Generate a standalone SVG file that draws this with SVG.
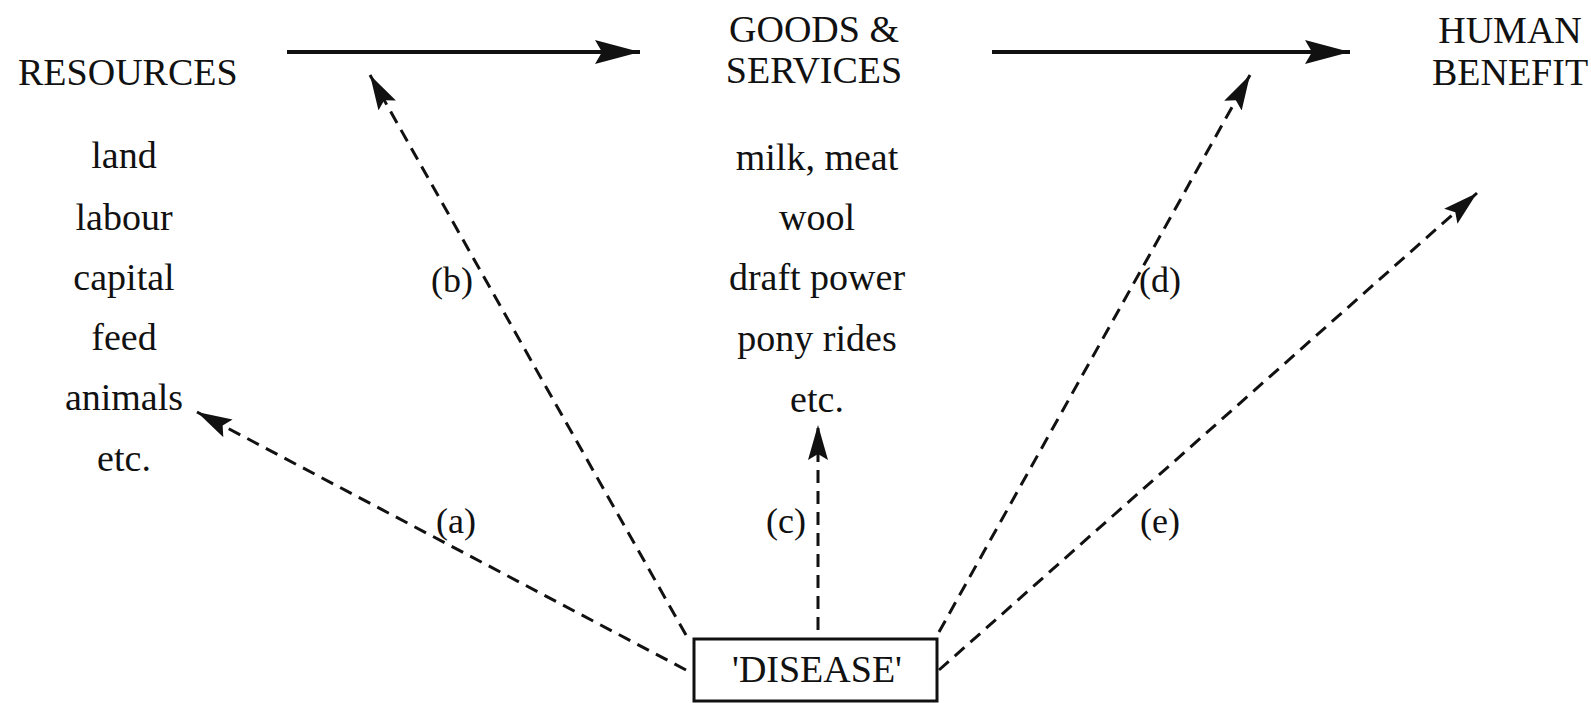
<svg xmlns="http://www.w3.org/2000/svg" width="1591" height="703" viewBox="0 0 1591 703">
<defs>
<style>
text{font-family:"Liberation Serif","Times New Roman",serif;fill:#111;}
.hd{font-size:38px;}
.it{font-size:38px;text-anchor:middle;}
.lb{font-size:36px;text-anchor:middle;}
.solid{stroke:#111;stroke-width:4;fill:none;}
.dash{stroke:#111;stroke-width:3;fill:none;stroke-dasharray:13 8;}
.box{stroke:#111;stroke-width:3;fill:#fff;}
</style>
<marker id="ah" markerUnits="userSpaceOnUse" markerWidth="48" markerHeight="28" refX="45" refY="12" orient="auto">
<path d="M0,0 L45,12 L0,24 L7,12 z" fill="#111" stroke="none"/>
</marker>
<marker id="ahd" markerUnits="userSpaceOnUse" markerWidth="38" markerHeight="24" refX="35" refY="10" orient="auto">
<path d="M0,0 L35,10 L0,20 L6,10 z" fill="#111" stroke="none"/>
</marker>
</defs>
<rect width="1591" height="703" fill="#fff"/>
<g id="connectors">
<line class="solid" x1="287" y1="52" x2="640" y2="52" marker-end="url(#ah)"/>
<line class="solid" x1="992" y1="52" x2="1350" y2="52" marker-end="url(#ah)"/>
<line class="dash" x1="686" y1="670" x2="197" y2="412" marker-end="url(#ahd)"/>
<line class="dash" x1="686" y1="635" x2="370" y2="75" marker-end="url(#ahd)"/>
<line class="dash" x1="818" y1="630" x2="818" y2="425" marker-end="url(#ahd)"/>
<line class="dash" x1="939" y1="632" x2="1250" y2="75" marker-end="url(#ahd)"/>
<line class="dash" x1="939" y1="670" x2="1477" y2="193" marker-end="url(#ahd)"/>
</g>
<g id="labels">
<text class="lb" x="452" y="292">(b)</text>
<text class="lb" x="1160" y="292">(d)</text>
<text class="lb" x="456" y="533">(a)</text>
<text class="lb" x="786" y="533">(c)</text>
<text class="lb" x="1160" y="533">(e)</text>
</g>
<g id="resources">
<text class="hd" x="18" y="85">RESOURCES</text>
<text class="it" x="124" y="168">land</text>
<text class="it" x="124" y="230">labour</text>
<text class="it" x="124" y="290">capital</text>
<text class="it" x="124" y="350">feed</text>
<text class="it" x="124" y="410">animals</text>
<text class="it" x="124" y="471">etc.</text>
</g>
<g id="goods">
<text class="hd" x="814" y="42" text-anchor="middle">GOODS &amp;</text>
<text class="hd" x="814" y="83" text-anchor="middle">SERVICES</text>
<text class="it" x="817" y="170">milk, meat</text>
<text class="it" x="817" y="230">wool</text>
<text class="it" x="817" y="290">draft power</text>
<text class="it" x="817" y="351">pony rides</text>
<text class="it" x="817" y="412">etc.</text>
</g>
<g id="benefit">
<text class="hd" x="1510" y="43" text-anchor="middle">HUMAN</text>
<text class="hd" x="1510" y="85" text-anchor="middle">BENEFIT</text>
</g>
<g id="disease">
<rect class="box" x="694" y="639" width="243" height="62"/>
<text class="hd" x="817" y="682" text-anchor="middle">'DISEASE'</text>
</g>
</svg>
